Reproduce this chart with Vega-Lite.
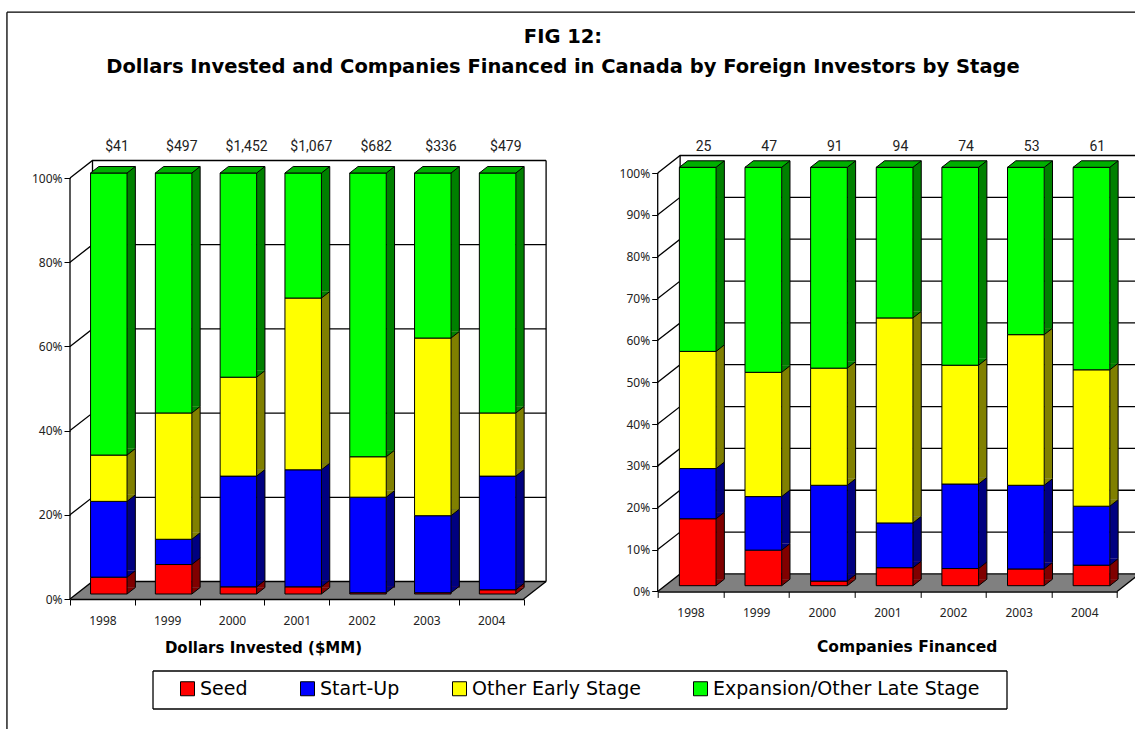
{"$schema":"https://vega.github.io/schema/vega-lite/v6.json","autosize":{"type":"none"},"padding":{"left":70,"top":173,"right":1065,"bottom":556},"background":"white","bounds":"flush","spacing":133.7,"config":{"view":{"stroke":null},"font":"Noto Sans","axis":{"labelColor":"#222222","titleColor":"black","labelFont":"Noto Sans","titleFont":"DejaVu Sans"}},
"datasets":{
"dollars":[
{"year":"1998","stage":"Seed","order":1,"pct":4},{"year":"1998","stage":"Start-Up","order":2,"pct":18},{"year":"1998","stage":"Other Early Stage","order":3,"pct":11},{"year":"1998","stage":"Expansion/Other Late Stage","order":4,"pct":67},
{"year":"1999","stage":"Seed","order":1,"pct":7},{"year":"1999","stage":"Start-Up","order":2,"pct":6},{"year":"1999","stage":"Other Early Stage","order":3,"pct":30},{"year":"1999","stage":"Expansion/Other Late Stage","order":4,"pct":57},
{"year":"2000","stage":"Seed","order":1,"pct":1.7},{"year":"2000","stage":"Start-Up","order":2,"pct":26.3},{"year":"2000","stage":"Other Early Stage","order":3,"pct":23.5},{"year":"2000","stage":"Expansion/Other Late Stage","order":4,"pct":48.5},
{"year":"2001","stage":"Seed","order":1,"pct":1.7},{"year":"2001","stage":"Start-Up","order":2,"pct":27.8},{"year":"2001","stage":"Other Early Stage","order":3,"pct":40.8},{"year":"2001","stage":"Expansion/Other Late Stage","order":4,"pct":29.7},
{"year":"2002","stage":"Seed","order":1,"pct":0.3},{"year":"2002","stage":"Start-Up","order":2,"pct":22.7},{"year":"2002","stage":"Other Early Stage","order":3,"pct":9.6},{"year":"2002","stage":"Expansion/Other Late Stage","order":4,"pct":67.4},
{"year":"2003","stage":"Seed","order":1,"pct":0.3},{"year":"2003","stage":"Start-Up","order":2,"pct":18.3},{"year":"2003","stage":"Other Early Stage","order":3,"pct":42.2},{"year":"2003","stage":"Expansion/Other Late Stage","order":4,"pct":39.2},
{"year":"2004","stage":"Seed","order":1,"pct":1},{"year":"2004","stage":"Start-Up","order":2,"pct":27},{"year":"2004","stage":"Other Early Stage","order":3,"pct":15},{"year":"2004","stage":"Expansion/Other Late Stage","order":4,"pct":57}],
"companies":[
{"year":"1998","stage":"Seed","order":1,"pct":16},{"year":"1998","stage":"Start-Up","order":2,"pct":12},{"year":"1998","stage":"Other Early Stage","order":3,"pct":28},{"year":"1998","stage":"Expansion/Other Late Stage","order":4,"pct":44},
{"year":"1999","stage":"Seed","order":1,"pct":8.5},{"year":"1999","stage":"Start-Up","order":2,"pct":12.8},{"year":"1999","stage":"Other Early Stage","order":3,"pct":29.7},{"year":"1999","stage":"Expansion/Other Late Stage","order":4,"pct":49},
{"year":"2000","stage":"Seed","order":1,"pct":1.1},{"year":"2000","stage":"Start-Up","order":2,"pct":22.9},{"year":"2000","stage":"Other Early Stage","order":3,"pct":28},{"year":"2000","stage":"Expansion/Other Late Stage","order":4,"pct":48},
{"year":"2001","stage":"Seed","order":1,"pct":4.3},{"year":"2001","stage":"Start-Up","order":2,"pct":10.7},{"year":"2001","stage":"Other Early Stage","order":3,"pct":49},{"year":"2001","stage":"Expansion/Other Late Stage","order":4,"pct":36},
{"year":"2002","stage":"Seed","order":1,"pct":4.1},{"year":"2002","stage":"Start-Up","order":2,"pct":20.2},{"year":"2002","stage":"Other Early Stage","order":3,"pct":28.4},{"year":"2002","stage":"Expansion/Other Late Stage","order":4,"pct":47.3},
{"year":"2003","stage":"Seed","order":1,"pct":4},{"year":"2003","stage":"Start-Up","order":2,"pct":20},{"year":"2003","stage":"Other Early Stage","order":3,"pct":36},{"year":"2003","stage":"Expansion/Other Late Stage","order":4,"pct":40},
{"year":"2004","stage":"Seed","order":1,"pct":4.9},{"year":"2004","stage":"Start-Up","order":2,"pct":14.1},{"year":"2004","stage":"Other Early Stage","order":3,"pct":32.6},{"year":"2004","stage":"Expansion/Other Late Stage","order":4,"pct":48.4}],
"totalsL":[{"year":"1998","label":"$41"},{"year":"1999","label":"$497"},{"year":"2000","label":"$1,452"},{"year":"2001","label":"$1,067"},{"year":"2002","label":"$682"},{"year":"2003","label":"$336"},{"year":"2004","label":"$479"}],
"totalsR":[{"year":"1998","label":"25"},{"year":"1999","label":"47"},{"year":"2000","label":"91"},{"year":"2001","label":"94"},{"year":"2002","label":"74"},{"year":"2003","label":"53"},{"year":"2004","label":"61"}],
"floorL":[{"fy":0,"fx":0,"fx2":1},{"fy":4.157,"fx":0.0496,"fx2":1.0496}],
"floorR":[{"fy":0,"fx":0,"fx2":1},{"fy":4.18,"fx":0.0488,"fx2":1.0488}],
"frameL":[
{"seg":"outerTop","fx":-0.139,"fy":139.4},{"seg":"outerTop","fx":2.348,"fy":139.4},{"seg":"outerLeft","fx":-0.139,"fy":139.4},{"seg":"outerLeft","fx":-0.139,"fy":-30.9},
{"seg":"boxT","fx":0.183,"fy":-17.1},{"seg":"boxT","fx":2.0657,"fy":-17.1},{"seg":"boxB","fx":0.183,"fy":-26.13},{"seg":"boxB","fx":2.0657,"fy":-26.13},{"seg":"boxL","fx":0.183,"fy":-17.1},{"seg":"boxL","fx":0.183,"fy":-26.13},{"seg":"boxR","fx":2.0657,"fy":-17.1},{"seg":"boxR","fx":2.0657,"fy":-26.13},
{"seg":"front","fx":0,"fy":0},{"seg":"front","fx":0,"fy":100},
{"seg":"backL","fx":0.0496,"fy":4.157},{"seg":"backL","fx":0.0496,"fy":104.157},
{"seg":"backR","fx":1.0496,"fy":4.157},{"seg":"backR","fx":1.0496,"fy":104.157},
{"seg":"floorR","fx":1,"fy":0},{"seg":"floorR","fx":1.0496,"fy":4.157},
{"seg":"g0","fx":0,"fy":0},{"seg":"g0","fx":0.0496,"fy":4.157},{"seg":"g0","fx":1.0496,"fy":4.157},
{"seg":"g20","fx":0,"fy":20},{"seg":"g20","fx":0.0496,"fy":24.157},{"seg":"g20","fx":1.0496,"fy":24.157},
{"seg":"g40","fx":0,"fy":40},{"seg":"g40","fx":0.0496,"fy":44.157},{"seg":"g40","fx":1.0496,"fy":44.157},
{"seg":"g60","fx":0,"fy":60},{"seg":"g60","fx":0.0496,"fy":64.157},{"seg":"g60","fx":1.0496,"fy":64.157},
{"seg":"g80","fx":0,"fy":80},{"seg":"g80","fx":0.0496,"fy":84.157},{"seg":"g80","fx":1.0496,"fy":84.157},
{"seg":"g100","fx":0,"fy":100},{"seg":"g100","fx":0.0496,"fy":104.157},{"seg":"g100","fx":1.0496,"fy":104.157}],
"frameR":[
{"seg":"front","fx":0,"fy":0},{"seg":"front","fx":0,"fy":100},
{"seg":"backL","fx":0.0488,"fy":4.18},{"seg":"backL","fx":0.0488,"fy":104.18},
{"seg":"floorR","fx":1,"fy":0},{"seg":"floorR","fx":1.0488,"fy":4.18},
{"seg":"g0","fx":0,"fy":0},{"seg":"g0","fx":0.0488,"fy":4.18},{"seg":"g0","fx":1.0488,"fy":4.18},
{"seg":"g10","fx":0,"fy":10},{"seg":"g10","fx":0.0488,"fy":14.18},{"seg":"g10","fx":1.0488,"fy":14.18},
{"seg":"g20","fx":0,"fy":20},{"seg":"g20","fx":0.0488,"fy":24.18},{"seg":"g20","fx":1.0488,"fy":24.18},
{"seg":"g30","fx":0,"fy":30},{"seg":"g30","fx":0.0488,"fy":34.18},{"seg":"g30","fx":1.0488,"fy":34.18},
{"seg":"g40","fx":0,"fy":40},{"seg":"g40","fx":0.0488,"fy":44.18},{"seg":"g40","fx":1.0488,"fy":44.18},
{"seg":"g50","fx":0,"fy":50},{"seg":"g50","fx":0.0488,"fy":54.18},{"seg":"g50","fx":1.0488,"fy":54.18},
{"seg":"g60","fx":0,"fy":60},{"seg":"g60","fx":0.0488,"fy":64.18},{"seg":"g60","fx":1.0488,"fy":64.18},
{"seg":"g70","fx":0,"fy":70},{"seg":"g70","fx":0.0488,"fy":74.18},{"seg":"g70","fx":1.0488,"fy":74.18},
{"seg":"g80","fx":0,"fy":80},{"seg":"g80","fx":0.0488,"fy":84.18},{"seg":"g80","fx":1.0488,"fy":84.18},
{"seg":"g90","fx":0,"fy":90},{"seg":"g90","fx":0.0488,"fy":94.18},{"seg":"g90","fx":1.0488,"fy":94.18},
{"seg":"g100","fx":0,"fy":100},{"seg":"g100","fx":0.0488,"fy":104.18},{"seg":"g100","fx":1.0488,"fy":104.18}]
},
"hconcat":[
{"width":453.6,"height":426,
"title":{"text":["FIG 12:","Dollars Invested and Companies Financed in Canada by Foreign Investors by Stage"],"anchor":"start","align":"center","frame":"group","dx":493,"offset":-68,"fontSize":19.5,"font":"DejaVu Sans","fontWeight":"bold","lineHeight":30,"color":"black"},
"resolve":{"scale":{"x":"independent"},"axis":{"y":"independent"}},
"layer":[
{"data":{"name":"floorL"},"mark":{"type":"area","orient":"horizontal","color":"#808080"},"encoding":{"x":{"field":"fx","type":"quantitative","axis":null,"scale":{"domain":[0,1],"nice":false,"zero":false}},"x2":{"field":"fx2"},"y":{"field":"fy","type":"quantitative","axis":null,"scale":{"domain":[0,101.19],"nice":false}}}},
{"data":{"name":"frameL"},"mark":{"type":"line","color":"black","strokeWidth":1.3,"clip":false},"encoding":{"x":{"field":"fx","type":"quantitative","axis":null,"scale":{"domain":[0,1],"nice":false,"zero":false}},"y":{"field":"fy","type":"quantitative","axis":null,"scale":{"domain":[0,101.19],"nice":false}},"detail":{"field":"seg"}}},
{"data":{"name":"dollars"},"transform":[{"stack":"pct","groupby":["year"],"sort":[{"field":"order","order":"ascending"}],"as":["y0","y1"]}],
"encoding":{"x":{"field":"year","type":"ordinal","scale":{"paddingInner":0,"paddingOuter":0},"axis":{"title":"Dollars Invested ($MM)","titleX":193,"titleY":41,"titleFontSize":15,"titleFontWeight":"bold","labelAngle":0,"labelFontSize":12,"labelPadding":10,"tickSize":6,"tickColor":"black","domainColor":"black","domainWidth":1.5,"tickBand":"extent","zindex":1}},
"y":{"field":"y0","type":"quantitative","scale":{"domain":[0,101.19],"nice":false},"axis":{"title":null,"values":[0,20,40,60,80,100],"labelExpr":"datum.value + '%'","labelFontSize":12,"tickSize":6,"tickColor":"black","domain":false,"grid":false,"labelPadding":2}}},
"layer":[
{"mark":{"type":"bar","width":8.3,"xOffset":28.8,"yOffset":-11.5,"y2Offset":-11.5},"encoding":{"y2":{"field":"y1"},"fill":{"field":"stage","type":"nominal","legend":null,"scale":{"domain":["Expansion/Other Late Stage","Other Early Stage","Start-Up","Seed"],"range":["#008000","#808000","#000080","#800000"]}}}},
{"mark":{"type":"rule","color":"black","strokeWidth":1,"xOffset":32.95,"yOffset":-11.5,"y2Offset":-11.5},"encoding":{"y2":{"field":"y1"}}},
{"transform":[{"filter":"datum.pct > 0.5"}],"mark":{"type":"point","shape":"M24.65,0L24.65,-6.5L32.95,-6.5Z","size":4,"filled":true,"opacity":1,"yOffset":-5},"encoding":{"fill":{"field":"stage","type":"nominal","legend":null,"scale":{"domain":["Expansion/Other Late Stage","Other Early Stage","Start-Up","Seed"],"range":["#008000","#808000","#000080","#800000"]}}}},
{"transform":[{"filter":"datum.pct > 0.5"}],"mark":{"type":"point","shape":"M24.65,0L32.95,-6.5","size":4,"filled":false,"opacity":1,"color":"black","strokeWidth":1,"yOffset":-5}},
{"mark":{"type":"bar","width":36.5,"xOffset":6.4,"yOffset":-5,"y2Offset":-5,"stroke":"black","strokeWidth":1},"encoding":{"y2":{"field":"y1"},"color":{"field":"stage","type":"nominal","scale":{"domain":["Seed","Start-Up","Other Early Stage","Expansion/Other Late Stage"],"range":["#FF0000","#0000FF","#FFFF00","#00FF00"]},"legend":{"title":null,"orient":"none","legendX":108,"legendY":506,"direction":"horizontal","columns":4,"symbolType":"square","symbolSize":196,"symbolStrokeColor":"black","symbolStrokeWidth":1,"symbolOpacity":1,"labelFont":"DejaVu Sans","labelFontSize":19,"labelColor":"black","labelLimit":400,"labelOffset":3,"columnPadding":50,"padding":0}}}},
{"transform":[{"filter":"datum.order == 4"}],"mark":{"type":"point","shape":"M-11.85,0L24.65,0L32.95,-6.5L-3.55,-6.5Z","size":4,"filled":true,"opacity":1,"fill":"#00B000","stroke":"black","strokeWidth":1,"yOffset":-5},"encoding":{"y":{"field":"y1","type":"quantitative"}}}
]},
{"data":{"name":"totalsL"},"mark":{"type":"text","font":"Roboto","fontSize":14,"color":"#222222","dx":14.6,"dy":-31},"encoding":{"x":{"field":"year","type":"ordinal","axis":null,"scale":{"paddingInner":0,"paddingOuter":0}},"y":{"datum":100,"type":"quantitative","axis":null,"scale":{"domain":[0,101.19],"nice":false}},"text":{"field":"label"}}}
]},
{"width":459.4,"height":418.4,
"resolve":{"scale":{"x":"independent"},"axis":{"y":"independent"}},
"layer":[
{"data":{"name":"floorR"},"mark":{"type":"area","orient":"horizontal","color":"#808080"},"encoding":{"x":{"field":"fx","type":"quantitative","axis":null,"scale":{"domain":[0,1],"nice":false,"zero":false}},"x2":{"field":"fx2"},"y":{"field":"fy","type":"quantitative","axis":null,"scale":{"domain":[0,100],"nice":false}}}},
{"data":{"name":"frameR"},"mark":{"type":"line","color":"black","strokeWidth":1.3,"clip":false},"encoding":{"x":{"field":"fx","type":"quantitative","axis":null,"scale":{"domain":[0,1],"nice":false,"zero":false}},"y":{"field":"fy","type":"quantitative","axis":null,"scale":{"domain":[0,100],"nice":false}},"detail":{"field":"seg"}}},
{"data":{"name":"companies"},"transform":[{"stack":"pct","groupby":["year"],"sort":[{"field":"order","order":"ascending"}],"as":["y0","y1"]}],
"encoding":{"x":{"field":"year","type":"ordinal","scale":{"paddingInner":0,"paddingOuter":0},"axis":{"title":"Companies Financed","titleX":249,"titleY":48,"titleFontSize":15.5,"titleFontWeight":"bold","labelAngle":0,"labelFontSize":12,"labelPadding":10,"tickSize":6,"tickColor":"black","domainColor":"black","domainWidth":1.5,"tickBand":"extent","zindex":1}},
"y":{"field":"y0","type":"quantitative","scale":{"domain":[0,100],"nice":false},"axis":{"title":null,"values":[0,10,20,30,40,50,60,70,80,90,100],"labelExpr":"datum.value + '%'","labelFontSize":12,"tickSize":6,"tickColor":"black","domain":false,"grid":false,"labelPadding":2}}},
"layer":[
{"mark":{"type":"bar","width":8.3,"xOffset":29.7,"yOffset":-12.2,"y2Offset":-12.2},"encoding":{"y2":{"field":"y1"},"fill":{"field":"stage","type":"nominal","legend":null,"scale":{"domain":["Expansion/Other Late Stage","Other Early Stage","Start-Up","Seed"],"range":["#008000","#808000","#000080","#800000"]}}}},
{"mark":{"type":"rule","color":"black","strokeWidth":1,"xOffset":33.85,"yOffset":-12.2,"y2Offset":-12.2},"encoding":{"y2":{"field":"y1"}}},
{"transform":[{"filter":"datum.pct > 0.5"}],"mark":{"type":"point","shape":"M25.55,0L25.55,-6.5L33.85,-6.5Z","size":4,"filled":true,"opacity":1,"yOffset":-5.7},"encoding":{"fill":{"field":"stage","type":"nominal","legend":null,"scale":{"domain":["Expansion/Other Late Stage","Other Early Stage","Start-Up","Seed"],"range":["#008000","#808000","#000080","#800000"]}}}},
{"transform":[{"filter":"datum.pct > 0.5"}],"mark":{"type":"point","shape":"M25.55,0L33.85,-6.5","size":4,"filled":false,"opacity":1,"color":"black","strokeWidth":1,"yOffset":-5.7}},
{"mark":{"type":"bar","width":36.7,"xOffset":7.2,"yOffset":-5.7,"y2Offset":-5.7,"stroke":"black","strokeWidth":1},"encoding":{"y2":{"field":"y1"},"color":{"field":"stage","type":"nominal","legend":null,"scale":{"domain":["Seed","Start-Up","Other Early Stage","Expansion/Other Late Stage"],"range":["#FF0000","#0000FF","#FFFF00","#00FF00"]}}}},
{"transform":[{"filter":"datum.order == 4"}],"mark":{"type":"point","shape":"M-11.15,0L25.55,0L33.85,-6.5L-2.85,-6.5Z","size":4,"filled":true,"opacity":1,"fill":"#00B000","stroke":"black","strokeWidth":1,"yOffset":-5.7},"encoding":{"y":{"field":"y1","type":"quantitative"}}}
]},
{"data":{"name":"totalsR"},"mark":{"type":"text","font":"Roboto","fontSize":14,"color":"#222222","dx":13,"dy":-26},"encoding":{"x":{"field":"year","type":"ordinal","axis":null,"scale":{"paddingInner":0,"paddingOuter":0}},"y":{"datum":100,"type":"quantitative","axis":null,"scale":{"domain":[0,100],"nice":false}},"text":{"field":"label"}}}
]}
]}
